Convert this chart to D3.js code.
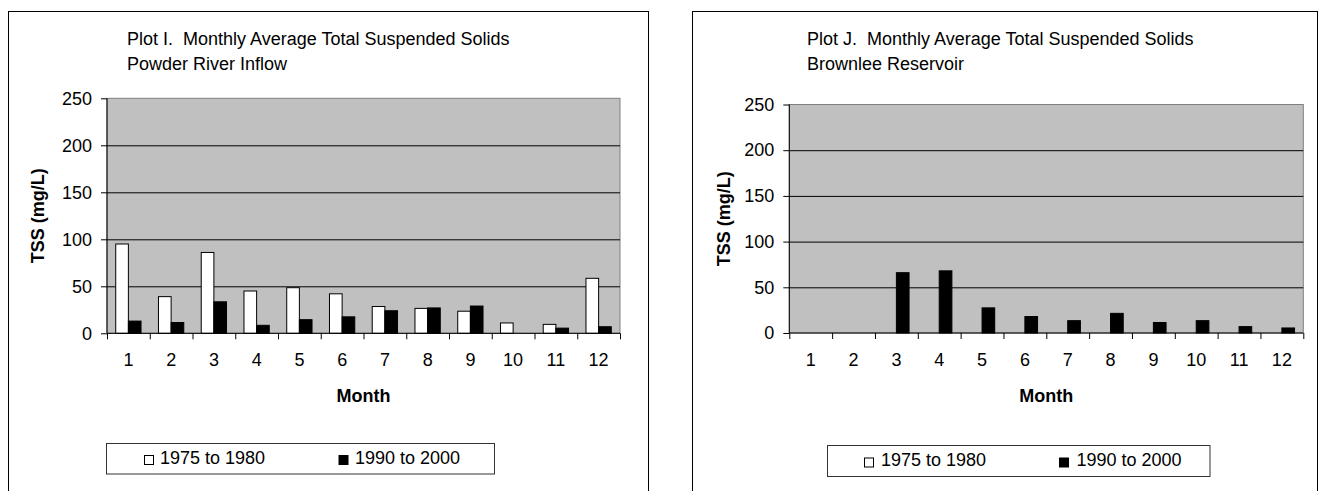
<!DOCTYPE html>
<html>
<head>
<meta charset="utf-8">
<script src="https://cdn.jsdelivr.net/npm/d3@7"></script>
<style>
  html, body { margin: 0; padding: 0; background: #fff; }
  svg { display: block; }
  text { font-family: Arial, "Liberation Sans", sans-serif; fill: #000; white-space: pre; }
</style>
</head>
<body>
<svg id="chart" width="1323" height="491"></svg>
<script>
// ---------- data ----------
const months = ["1","2","3","4","5","6","7","8","9","10","11","12"];
const seriesNames = ["1975 to 1980", "1990 to 2000"];
const yTicks = [0, 50, 100, 150, 200, 250];

// Plot I. Powder River Inflow
const powder1975 = [95, 39, 86, 45, 48.5, 42, 28.5, 26.5, 23.5, 11, 9.5, 58.5];
const powder1990 = [13, 11.5, 33.5, 8.5, 14.5, 17.5, 24, 27, 29, null, 5.5, 7];

// Plot J. Brownlee Reservoir
const brownlee1975 = [null, null, null, null, null, null, null, null, null, null, null, null];
const brownlee1990 = [null, null, 66, 68, 27.5, 18, 13.5, 21.5, 11.5, 13.5, 7, 5.5];

const panels = [
  {
    titles: ["Plot I.  Monthly Average Total Suspended Solids", "Powder River Inflow"],
    s1: powder1975, s2: powder1990,
    box: {x: 8.5, y: 11.5, w: 640},
    plot: {l: 107, r: 620, t: 98.3, b: 333.3},
    titleX: 127, titleY: [44.5, 69.5],
    yTitleX: 38,
    legend: {x: 106.5, y: 443.5, w: 388, h: 30.5, sw1: 38, tx1: 53.5, sw2: 232.5, tx2: 248.5, base: 20}
  },
  {
    titles: ["Plot J.  Monthly Average Total Suspended Solids", "Brownlee Reservoir"],
    s1: brownlee1975, s2: brownlee1990,
    box: {x: 692.5, y: 11.5, w: 625},
    plot: {l: 789.3, r: 1303.3, t: 104.5, b: 333},
    titleX: 807, titleY: [44.5, 70],
    yTitleX: 724,
    legend: {x: 827.5, y: 445.5, w: 382.5, h: 31, sw1: 37, tx1: 53.5, sw2: 232, tx2: 249, base: 20.5}
  }
];

const svg = d3.select("#chart");
const FS = 18;

panels.forEach(p => {
  const g = svg.append("g");
  // panel border
  g.append("rect")
    .attr("x", p.box.x).attr("y", p.box.y)
    .attr("width", p.box.w).attr("height", 600)
    .attr("fill", "#fff").attr("stroke", "#000").attr("stroke-width", 1);

  // titles
  p.titles.forEach((t, i) => {
    g.append("text").attr("x", p.titleX).attr("y", p.titleY[i])
      .attr("xml:space", "preserve")
      .attr("font-size", FS).text(t);
  });

  const x = d3.scaleBand().domain(months).range([p.plot.l, p.plot.r]).padding(0);
  const xs = d3.scaleBand().domain(seriesNames).range([0, x.bandwidth()])
    .paddingInner(0).paddingOuter(0.69);
  const xLin = d3.scaleLinear().domain([0, 12]).range([p.plot.l, p.plot.r]);
  const y = d3.scaleLinear().domain([0, 250]).range([p.plot.b, p.plot.t]);
  const W = p.plot.r - p.plot.l;

  // plot background
  g.append("rect")
    .attr("x", p.plot.l).attr("y", p.plot.t)
    .attr("width", W).attr("height", p.plot.b - p.plot.t)
    .attr("fill", "#c0c0c0").attr("stroke", "#808080").attr("stroke-width", 1);

  // gridlines
  const grid = g.append("g").attr("transform", `translate(${p.plot.l},0)`)
    .call(d3.axisLeft(y).tickValues([50, 100, 150, 200]).tickSize(-W).tickFormat(""));
  grid.select(".domain").remove();
  grid.selectAll("line").attr("stroke", "#000").attr("stroke-width", 1);

  // bars
  const rows = months.map((m, i) => ({m, vals: [p.s1[i], p.s2[i]]}));
  const barData = [];
  rows.forEach(r => r.vals.forEach((v, j) => {
    if (v != null) barData.push({m: r.m, s: seriesNames[j], v, j});
  }));
  g.append("g").selectAll("rect").data(barData).join("rect")
    .attr("x", d => x(d.m) + xs(d.s))
    .attr("y", d => y(d.v))
    .attr("width", xs.bandwidth())
    .attr("height", d => y(0) - y(d.v))
    .attr("fill", d => d.j === 0 ? "#fff" : "#000")
    .attr("stroke", "#000").attr("stroke-width", 1);

  // y axis
  const ya = g.append("g").attr("transform", `translate(${p.plot.l},0)`)
    .call(d3.axisLeft(y).tickValues(yTicks).tickSize(6).tickPadding(9));
  ya.select(".domain").attr("stroke", "#000").attr("d", `M0,${p.plot.t}V${p.plot.b}`);
  ya.selectAll("line").attr("stroke", "#000");
  ya.selectAll("text").attr("font-size", FS).attr("font-family", "Arial, 'Liberation Sans', sans-serif").attr("fill", "#000");

  // x axis: ticks at category boundaries
  const xa = g.append("g").attr("transform", `translate(0,${p.plot.b})`)
    .call(d3.axisBottom(xLin).tickValues(d3.range(0, 13)).tickSize(6).tickFormat(""));
  xa.select(".domain").attr("stroke", "#000").attr("d", `M${p.plot.l},0H${p.plot.r}`);
  xa.selectAll("line").attr("stroke", "#000");
  // x labels
  const xl = g.append("g").attr("transform", `translate(0,${p.plot.b})`)
    .call(d3.axisBottom(x).tickSize(0).tickPadding(20));
  xl.select(".domain").remove();
  xl.selectAll("text").attr("font-size", FS).attr("font-family", "Arial, 'Liberation Sans', sans-serif").attr("fill", "#000");

  // axis titles
  g.append("text").attr("x", (p.plot.l + p.plot.r) / 2).attr("y", 401.5)
    .attr("text-anchor", "middle").attr("font-size", FS).attr("font-weight", "bold").text("Month");
  g.append("text")
    .attr("transform", `translate(${p.yTitleX + 6},${(p.plot.t + p.plot.b) / 2}) rotate(-90)`)
    .attr("text-anchor", "middle").attr("font-size", FS).attr("font-weight", "bold").text("TSS (mg/L)");

  // legend
  const L = p.legend;
  const lg = g.append("g").attr("transform", `translate(${L.x},${L.y})`);
  lg.append("rect").attr("width", L.w).attr("height", L.h)
    .attr("fill", "#fff").attr("stroke", "#333").attr("stroke-width", 1);
  const items = [
    {name: seriesNames[0], fill: "#fff", sw: L.sw1, tx: L.tx1},
    {name: seriesNames[1], fill: "#000", sw: L.sw2, tx: L.tx2}
  ];
  items.forEach(it => {
    lg.append("rect").attr("x", it.sw).attr("y", L.base - 8).attr("width", 9).attr("height", 9)
      .attr("fill", it.fill).attr("stroke", "#000").attr("stroke-width", 1);
    lg.append("text").attr("x", it.tx).attr("y", L.base).attr("font-size", FS).text(it.name);
  });
});
</script>
</body>
</html>
